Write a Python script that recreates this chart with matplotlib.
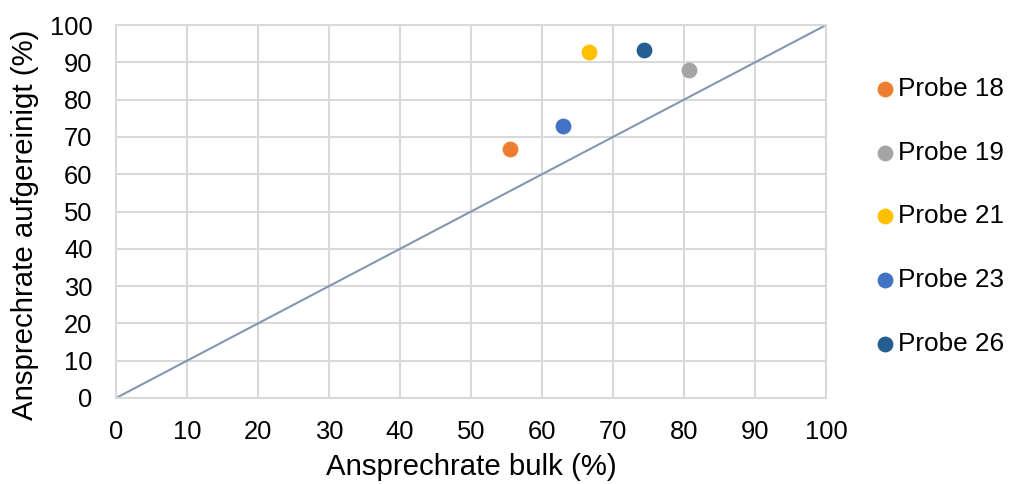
import matplotlib
matplotlib.use("Agg")
import matplotlib.pyplot as plt

plt.rcParams['font.family'] = ['Liberation Sans', 'DejaVu Sans']

# Response rates per sample (bulk vs. purified), in percent
samples = ["Probe 18", "Probe 19", "Probe 21", "Probe 23", "Probe 26"]
bulk = [55.5, 80.7, 66.6, 63.0, 74.4]
purified = [66.7, 88.0, 92.8, 73.0, 93.2]
colors = ["#ed7d31", "#a5a5a5", "#ffc000", "#4472c4", "#255e91"]

ticks = list(range(0, 101, 10))

fig = plt.figure(figsize=(10.1, 4.84), dpi=100)
ax = fig.add_axes([0.1149, 0.1777, 0.7030, 0.7706])

# reference diagonal y = x
ax.plot([0, 100], [0, 100], color="#8497b0", linewidth=1.5, zorder=2)

for name, x, y, c in zip(samples, bulk, purified, colors):
    ax.scatter([x], [y], s=130, color=c, label=name, zorder=3, linewidths=0)

ax.set_xlim(0, 100)
ax.set_ylim(0, 100)
ax.set_xticks(ticks)
ax.set_yticks(ticks)
ax.grid(True, color="#d9d9d9", linewidth=1.5, zorder=0)
ax.set_axisbelow(True)
for sp in ax.spines.values():
    sp.set_color("#d9d9d9")
    sp.set_linewidth(1.5)
ax.tick_params(length=0, labelsize=18.4, colors="#000000")
ax.tick_params(axis="x", pad=16)
ax.tick_params(axis="y", pad=17)

ax.set_xlabel("Ansprechrate bulk (%)", fontsize=21.2, labelpad=6)
ax.set_ylabel("Ansprechrate aufgereinigt (%)", fontsize=21.2)
ax.yaxis.set_label_coords(-0.108, 0.464)

fig.legend(loc="center left", bbox_to_anchor=(0.866, 0.553), frameon=False,
           fontsize=18.8, labelspacing=1.52, handlelength=0.8,
           handletextpad=0.1, borderpad=0, borderaxespad=0)

fig.savefig("out.png", dpi=100)
